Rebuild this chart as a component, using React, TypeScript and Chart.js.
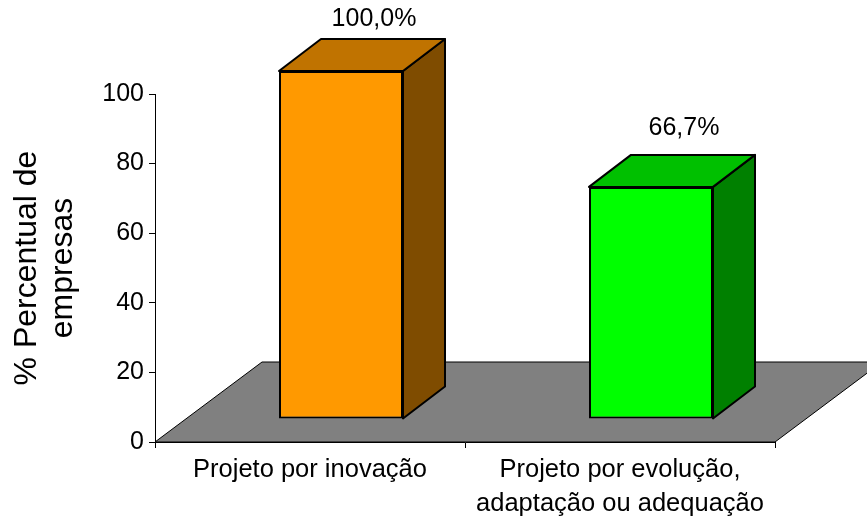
import React, { useEffect, useRef } from "react";
import { Chart, registerables } from "chart.js";

Chart.register(...registerables);

const categories: string[][] = [
  ["Projeto por inovação"],
  ["Projeto por evolução,", "adaptação ou adequação"],
];
const values: number[] = [100.0, 66.7];
const valueLabels: string[] = ["100,0%", "66,7%"];
const frontColors: string[] = ["#FF9900", "#00FF00"];
const topColors: string[] = ["#C07300", "#00C000"];
const sideColors: string[] = ["#7F4C00", "#008000"];
const yAxisTitle: string[] = ["% Percentual de", "empresas"];

const FONT = "'Liberation Sans', Arial, sans-serif";
// 3D geometry (pixels)
const FLOOR_DX = 107;
const FLOOR_DY = -80;
const BAR_OFF_X = 31;
const BAR_OFF_Y = -23;
const BAR_DX = 42;
const BAR_DY = -32;

const threeD = {
  id: "threeD",
  beforeDatasetsDraw(chart: any) {
    const { ctx, chartArea } = chart;
    const { left, right, bottom } = chartArea;
    ctx.save();
    ctx.beginPath();
    ctx.moveTo(left, bottom);
    ctx.lineTo(right, bottom);
    ctx.lineTo(right + FLOOR_DX, bottom + FLOOR_DY);
    ctx.lineTo(left + FLOOR_DX, bottom + FLOOR_DY);
    ctx.closePath();
    ctx.fillStyle = "#808080";
    ctx.fill();
    ctx.strokeStyle = "#000";
    ctx.lineWidth = 1;
    ctx.stroke();
    ctx.restore();
  },
  beforeDatasetDraw(chart: any, args: any) {
    const { ctx } = chart;
    ctx.save();
    ctx.translate(BAR_OFF_X, BAR_OFF_Y);
    const meta = args.meta;
    meta.data.forEach((bar: any, i: number) => {
      const { x, y, base, width } = bar.getProps(["x", "y", "base", "width"], true);
      const l = x - width / 2;
      const r = x + width / 2;
      ctx.lineWidth = 2;
      ctx.lineJoin = "round";
      ctx.strokeStyle = "#000";
      // side face
      ctx.beginPath();
      ctx.moveTo(r, y);
      ctx.lineTo(r + BAR_DX, y + BAR_DY);
      ctx.lineTo(r + BAR_DX, base + BAR_DY);
      ctx.lineTo(r, base);
      ctx.closePath();
      ctx.fillStyle = sideColors[i];
      ctx.fill();
      ctx.stroke();
      // top face
      ctx.beginPath();
      ctx.moveTo(l, y);
      ctx.lineTo(l + BAR_DX, y + BAR_DY);
      ctx.lineTo(r + BAR_DX, y + BAR_DY);
      ctx.lineTo(r, y);
      ctx.closePath();
      ctx.fillStyle = topColors[i];
      ctx.fill();
      ctx.stroke();
    });
  },
  afterDatasetDraw(chart: any, args: any) {
    const { ctx } = chart;
    ctx.restore();
    ctx.save();
    ctx.font = `25px ${FONT}`;
    ctx.fillStyle = "#000";
    ctx.textAlign = "center";
    ctx.textBaseline = "middle";
    args.meta.data.forEach((bar: any, i: number) => {
      const { x, y } = bar.getProps(["x", "y"], true);
      const cx = x + BAR_OFF_X + BAR_DX / 2 + 12;
      const cy = Math.max(19, y + BAR_OFF_Y + BAR_DY - 27);
      ctx.fillText(valueLabels[i], cx, cy);
    });
    ctx.restore();
  },
};

export default function App() {
  const ref = useRef<HTMLCanvasElement | null>(null);
  useEffect(() => {
    if (!ref.current) return;
    const chart = new Chart(ref.current, {
      type: "bar",
      data: {
        labels: categories as any,
        datasets: [
          {
            data: values,
            backgroundColor: frontColors,
            borderColor: "#000",
            borderWidth: 2,
            borderSkipped: false,
            barPercentage: 0.4,
            categoryPercentage: 1,
            clip: false as any,
          },
        ],
      },
      options: {
        responsive: false,
        animation: false,
        devicePixelRatio: 1,
        layout: { padding: { top: 94, right: 92, left: 0, bottom: 0 } },
        plugins: { legend: { display: false }, tooltip: { enabled: false } },
        scales: {
          x: {
            grid: {
              display: true,
              drawOnChartArea: false,
              drawTicks: true,
              tickLength: 6,
              color: "#000",
              offset: true,
            },
            border: { display: true, color: "#000", width: 1 },
            ticks: {
              color: "#000",
              font: { family: FONT, size: 25.5, lineHeight: 1.34 },
              padding: 5,
              maxRotation: 0,
              autoSkip: false,
            },
            afterFit: (s: any) => {
              s.height = 75;
            },
          },
          y: {
            min: 0,
            max: 100,
            grid: {
              display: true,
              drawOnChartArea: false,
              drawTicks: true,
              tickLength: 6,
              color: "#000",
            },
            border: { display: true, color: "#000", width: 1 },
            ticks: {
              stepSize: 20,
              color: "#000",
              font: { family: FONT, size: 25 },
              padding: 5,
            },
            title: {
              display: true,
              text: yAxisTitle,
              color: "#000",
              font: { family: FONT, size: 32, lineHeight: 1.1 },
              padding: { top: 10, bottom: 0 },
            },
            afterFit: (s: any) => {
              s.width = 155;
            },
          },
        },
      },
      plugins: [threeD],
    });
    return () => chart.destroy();
  }, []);
  return (
    <div style={{ position: "fixed", left: 0, top: 0, width: 867, height: 517, background: "#fff" }}>
      <canvas ref={ref} width={867} height={517} style={{ display: "block" }} />
    </div>
  );
}
